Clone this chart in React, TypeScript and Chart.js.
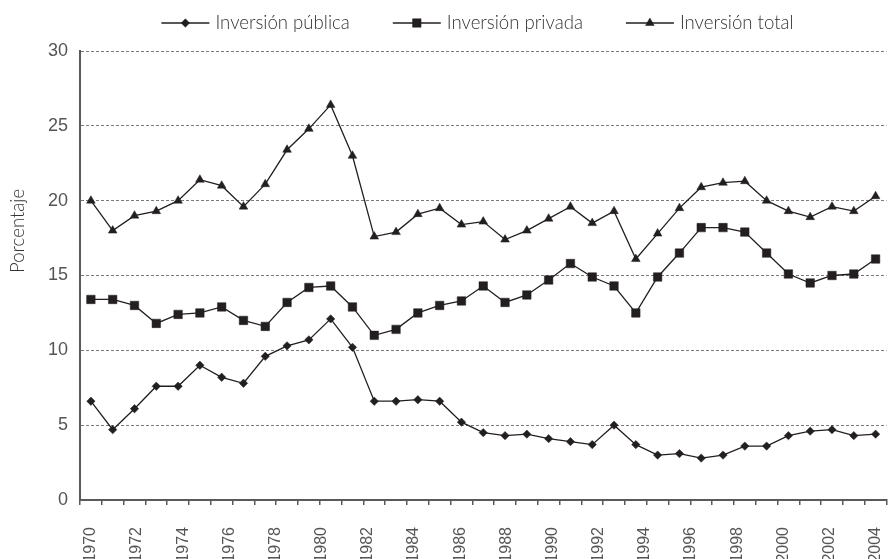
import React, { useEffect, useRef } from 'react';
import { Chart, registerables } from 'chart.js';
import { drawPoint } from 'chart.js/helpers';

Chart.register(...registerables);

// 37 yearly observations, starting in 1970
const categories = [
  '1970', '1971', '1972', '1973', '1974', '1975', '1976', '1977', '1978', '1979',
  '1980', '1981', '1982', '1983', '1984', '1985', '1986', '1987', '1988', '1989',
  '1990', '1991', '1992', '1993', '1994', '1995', '1996', '1997', '1998', '1999',
  '2000', '2001', '2002', '2003', '2004', '2005', '2006',
];

const tickLabels = [
  '1970', '1972', '1974', '1976', '1978', '1980', '1982', '1984', '1986',
  '1988', '1990', '1992', '1994', '1996', '1998', '2000', '2002', '2004',
];

const inversionPublica = [
  6.6, 4.7, 6.1, 7.6, 7.6, 9.0, 8.2, 7.8, 9.6, 10.3, 10.7, 12.1, 10.2, 6.6, 6.6, 6.7, 6.6, 5.2, 4.5,
  4.3, 4.4, 4.1, 3.9, 3.7, 5.0, 3.7, 3.0, 3.1, 2.8, 3.0, 3.6, 3.6, 4.3, 4.6, 4.7, 4.3, 4.4,
];

const inversionPrivada = [
  13.4, 13.4, 13.0, 11.8, 12.4, 12.5, 12.9, 12.0, 11.6, 13.2, 14.2, 14.3, 12.9, 11.0, 11.4, 12.5, 13.0, 13.3, 14.3,
  13.2, 13.7, 14.7, 15.8, 14.9, 14.3, 12.5, 14.9, 16.5, 18.2, 18.2, 17.9, 16.5, 15.1, 14.5, 15.0, 15.1, 16.1,
];

const inversionTotal = [
  20.0, 18.0, 19.0, 19.3, 20.0, 21.4, 21.0, 19.6, 21.1, 23.4, 24.8, 26.4, 23.0, 17.6, 17.9, 19.1, 19.5, 18.4, 18.6,
  17.4, 18.0, 18.8, 19.6, 18.5, 19.3, 16.1, 17.8, 19.5, 20.9, 21.2, 21.3, 20.0, 19.3, 18.9, 19.6, 19.3, 20.3,
];

const seriesLabels = ['Inversión pública', 'Inversión privada', 'Inversión total'];
const yAxisTitle = 'Porcentaje';
const yTicks = { min: 0, max: 30, step: 5 };

const INK = '#231f20';
const AXIS = '#5a5a5a';
const LABEL_FAMILY = "Lato, 'Open Sans', sans-serif";
const LABEL_FONT = `300 18.6px ${LABEL_FAMILY}`;

const annotationsPlugin = {
  id: 'lineLegend',
  afterDraw(chart: any) {
    const ctx = chart.ctx;
    ctx.save();
    ctx.font = LABEL_FONT;
    const lineW = 48;
    const gapText = 6;
    const gapItem = 43;
    const items = chart.data.datasets.map((ds: any) => ({ ds, w: ctx.measureText(ds.label).width }));
    const total =
      items.reduce((s: number, it: any) => s + lineW + gapText + it.w, 0) + gapItem * (items.length - 1);
    let x = 477.5 - total / 2;
    const y = 23;
    for (const it of items) {
      ctx.strokeStyle = INK;
      ctx.lineWidth = 1.3;
      ctx.beginPath();
      ctx.moveTo(x, y);
      ctx.lineTo(x + lineW, y);
      ctx.stroke();
      ctx.fillStyle = INK;
      ctx.strokeStyle = INK;
      ctx.lineWidth = 0.5;
      drawPoint(ctx, { pointStyle: it.ds.pointStyle, radius: it.ds.pointRadius, borderWidth: 0.5, rotation: 0 }, x + lineW / 2, y);
      ctx.fillStyle = '#333';
      ctx.textBaseline = 'middle';
      ctx.textAlign = 'left';
      ctx.fillText(it.ds.label, x + lineW + gapText, y);
      x += lineW + gapText + it.w + gapItem;
    }
    // y axis title
    ctx.translate(23.5, 273);
    ctx.rotate(-Math.PI / 2);
    ctx.textAlign = 'left';
    ctx.textBaseline = 'alphabetic';
    ctx.fillStyle = '#333';
    ctx.fillText(yAxisTitle, 0, 0);
    ctx.restore();
  },
};

function makeSeries(label: string, data: number[], pointStyle: string, pointRadius: number) {
  return {
    label,
    data,
    borderColor: INK,
    borderWidth: 1.3,
    backgroundColor: INK,
    pointStyle,
    pointRadius,
    pointHoverRadius: pointRadius,
    pointBackgroundColor: INK,
    pointBorderColor: INK,
    pointBorderWidth: 0.5,
    tension: 0,
    fill: false,
  };
}

export default function App() {
  const ref = useRef<HTMLCanvasElement | null>(null);

  useEffect(() => {
    if (!ref.current) return;
    const chart = new Chart(ref.current, {
      type: 'line',
      data: {
        labels: categories,
        datasets: [
          makeSeries(seriesLabels[0], inversionPublica, 'rectRot', 4.2),
          makeSeries(seriesLabels[1], inversionPrivada, 'rect', 6),
          makeSeries(seriesLabels[2], inversionTotal, 'triangle', 5),
        ] as any,
      },
      options: {
        responsive: false,
        animation: false,
        layout: { padding: { top: 51, right: 1, left: 0, bottom: 0 } },
        plugins: {
          legend: { display: false },
          tooltip: { enabled: false },
        },
        scales: {
          x: {
            type: 'category',
            offset: true,
            weight: 0,
            grid: {
              offset: true,
              drawOnChartArea: false,
              drawTicks: true,
              tickLength: 5,
              color: AXIS,
              lineWidth: 1.5,
            },
            ticks: { display: false },
            border: { display: true, color: AXIS, width: 2 },
          },
          x2: {
            type: 'linear',
            position: 'bottom',
            min: -0.5,
            max: categories.length - 0.5,
            weight: 1,
            afterBuildTicks: (s: any) => {
              s.ticks = tickLabels.map((_, k) => ({
                value: (k * (categories.length - 1)) / (tickLabels.length - 1),
              }));
            },
            afterFit: (s: any) => {
              s.height = 54;
              s.paddingLeft = 0;
              s.paddingRight = 0;
            },
            ticks: {
              autoSkip: false,
              maxRotation: 90,
              minRotation: 90,
              padding: 22,
              color: '#555',
              font: { family: "'Liberation Sans', Arial, sans-serif", size: 16 },
              callback: (_v: any, i: number) => tickLabels[i],
            },
            grid: { display: false, drawTicks: false, drawOnChartArea: false },
            border: { display: false },
          },
          y: {
            min: yTicks.min,
            max: yTicks.max,
            afterFit: (s: any) => {
              s.width = 80;
            },
            ticks: {
              stepSize: yTicks.step,
              padding: 12,
              color: '#555',
              font: { family: "'Liberation Sans', Arial, sans-serif", size: 18 },
            },
            grid: { color: '#7a7a7a', lineWidth: 1, drawTicks: false },
            border: { display: true, color: AXIS, width: 2, dash: [3, 2] },
          },
        },
      } as any,
      plugins: [annotationsPlugin],
    });
    return () => chart.destroy();
  }, []);

  return (
    <div style={{ position: 'fixed', left: 0, top: 0, width: 893, height: 559, background: '#fff' }}>
      <canvas ref={ref} width={893} height={559} style={{ display: 'block' }} />
    </div>
  );
}
